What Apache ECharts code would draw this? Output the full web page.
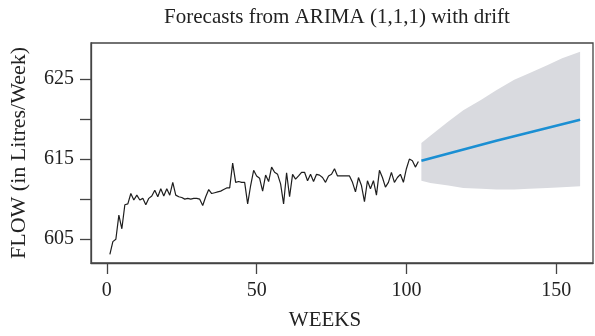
<!DOCTYPE html>
<html>
<head>
<meta charset="utf-8">
<script src="https://cdn.jsdelivr.net/npm/echarts@6/dist/echarts.min.js"></script>
<style>html,body{margin:0;padding:0;background:#fff}#c{width:595px;height:336px}</style>
</head>
<body>
<div id="c"></div>
<script>
// Observed weekly flow, weeks 1..104
var obsFlow = [
  603.1, 604.7, 605.0, 608.0, 606.3, 609.3, 609.4, 610.7, 609.9, 610.5,
  609.9, 610.1, 609.3, 610.1, 610.4, 611.1, 610.3, 611.3, 610.4, 611.3,
  610.5, 612.1, 610.5, 610.3, 610.2, 610.0, 610.1, 610.0, 610.1, 610.1,
  610.0, 609.2, 610.3, 611.2, 610.7, 610.8, 610.9, 611.0, 611.2, 611.4,
  611.4, 614.5, 612.1, 612.2, 612.1, 612.1, 609.4, 611.7, 613.6, 612.9,
  612.6, 611.0, 613.0, 612.2, 614.0, 613.35, 613.1, 611.9, 609.4, 613.3,
  610.3, 613.1, 612.5, 612.9, 613.35, 613.35, 612.3, 613.1, 612.2, 613.1,
  613.0, 612.7, 612.1, 612.9, 613.1, 613.8, 612.9, 612.9, 612.9, 612.9,
  612.9, 612.1, 610.9, 612.7, 611.7, 609.7, 612.3, 611.3, 612.3, 610.5,
  613.6, 612.7, 611.5, 612.1, 613.35, 612.1, 612.7, 613.1, 612.1, 613.8,
  615.0, 614.8, 614.0, 614.7
];
var obsStartWeek = 1;

// Forecast band (read at these weeks)
var fcWeeks = [105, 108, 114, 119, 125, 130, 136, 141, 147, 152, 158];
var fcUpper = [617.0, 617.9, 619.7, 621.1, 622.4, 623.6, 624.9, 625.7, 626.7, 627.6, 628.4];
var fcLower = [612.3, 612.0, 611.7, 611.4, 611.3, 611.2, 611.2, 611.3, 611.4, 611.5, 611.6];
// Point forecast (straight drift line)
var meanWeeks = [105, 130, 158];
var meanFlow  = [614.8, 617.3, 619.9];

var xTicks = [0, 50, 100, 150];
var yTicks = [605, 610, 615, 620, 625];
var yLabels = [605, 615, 625];

var FONT = 'Liberation Serif';
var TXT = '#222';

var obsData = obsFlow.map(function (v, i) { return [obsStartWeek + i, v]; });
var meanData = meanWeeks.map(function (w, i) { return [w, meanFlow[i]]; });

var chart = echarts.init(document.getElementById('c'), null, {renderer: 'canvas'});
chart.setOption({
  animation: false,
  backgroundColor: '#fff',
  title: {
    text: 'Forecasts from ARIMA (1,1,1) with drift',
    left: 337, top: 7, textAlign: 'center', padding: 0,
    textStyle: {fontFamily: FONT, fontSize: 21, fontWeight: 'normal', color: TXT}
  },
  grid: {left: 87, right: 2, top: 43, bottom: 71, show: true, borderColor: '#444', borderWidth: 1.3, backgroundColor: 'transparent'},
  xAxis: {
    type: 'value', min: -5.3, max: 162.3,
    name: 'WEEKS', nameLocation: 'middle', nameGap: 47,
    nameTextStyle: {fontFamily: FONT, fontSize: 21, color: TXT, padding: [0, 34, 0, 0]},
    axisLine: {show: true, onZero: false, lineStyle: {color: '#444', width: 1.3}},
    axisTick: {show: true, inside: false, length: 11, customValues: xTicks, lineStyle: {color: '#444', width: 1.3}},
    axisLabel: {customValues: xTicks, margin: 18, fontFamily: FONT, fontSize: 20, color: TXT},
    splitLine: {show: false}
  },
  yAxis: {
    type: 'value', min: 602.03, max: 629.49,
    name: 'FLOW (in Litres/Week)', nameLocation: 'middle', nameGap: 61,
    nameTextStyle: {fontFamily: FONT, fontSize: 22, color: TXT},
    axisLine: {show: true, onZero: false, lineStyle: {color: '#444', width: 1.3}},
    axisTick: {show: true, inside: false, length: 11, customValues: yTicks, lineStyle: {color: '#444', width: 1.3}},
    axisLabel: {customValues: yLabels, margin: 17, fontFamily: FONT, fontSize: 20, color: TXT},
    splitLine: {show: false}
  },
  series: [
    {
      type: 'custom', z: 1, silent: true,
      data: [[fcWeeks[0], fcUpper[0]]],
      renderItem: function (params, api) {
        var pts = [];
        for (var i = 0; i < fcWeeks.length; i++) pts.push(api.coord([fcWeeks[i], fcUpper[i]]));
        for (var j = fcWeeks.length - 1; j >= 0; j--) pts.push(api.coord([fcWeeks[j], fcLower[j]]));
        return {type: 'polygon', shape: {points: pts}, style: {fill: '#d9dadf', stroke: null}};
      }
    },
    {
      type: 'line', z: 3, data: obsData, showSymbol: false, symbol: 'none',
      lineStyle: {color: '#1e1e1e', width: 1.2}
    },
    {
      type: 'line', z: 3, data: meanData, showSymbol: false, symbol: 'none',
      lineStyle: {color: '#1b8fd3', width: 2.6}
    }
  ]
});
</script>
</body>
</html>
